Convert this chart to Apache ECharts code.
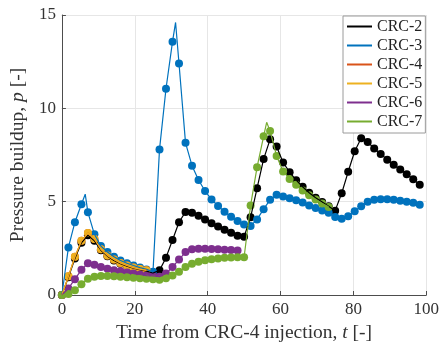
<!DOCTYPE html>
<html><head><meta charset="utf-8">
<script src="https://cdn.jsdelivr.net/npm/echarts@6/dist/echarts.min.js"></script>
<style>html,body{margin:0;padding:0;background:#fff}#c{width:442px;height:349px}</style>
</head><body><div id="c"></div>
<script>
// sample times (markers)
const t = [0,1.79,3.57,5.36,7.14,8.93,10.71,12.5,14.29,16.07,17.86,19.64,21.43,23.21,25,
  26.79,28.57,30.36,32.14,33.93,35.71,37.5,39.29,41.07,42.86,44.64,46.43,48.21,50,
  51.79,53.57,55.36,57.14,58.93,60.71,62.5,64.29,66.07,67.86,69.64,71.43,73.21,75,
  76.79,78.57,80.36,82.14,83.93,85.71,87.5,89.29,91.07,92.86,94.64,96.43,98.21];

const crc2 = [0,0.95,1.95,2.8,3.2,2.9,2.4,2.08,1.85,1.68,1.55,1.44,1.36,1.28,1.18,
  1.32,2.0,2.95,3.9,4.45,4.4,4.25,4.05,3.85,3.67,3.5,3.33,3.18,3.12,
  4.16,5.72,7.28,8.34,7.95,7.1,6.58,6.15,5.8,5.48,5.21,4.98,4.75,4.52,
  5.45,6.6,7.7,8.4,8.2,7.85,7.55,7.25,6.98,6.72,6.47,6.2,5.9];
const crc3 = [0,2.55,3.9,4.86,4.43,3.25,2.62,2.3,2.05,1.85,1.7,1.58,1.47,1.37,1.24,
  7.8,11.05,13.57,12.4,8.15,6.93,6.16,5.57,5.12,4.77,4.46,4.19,3.96,3.78,
  3.7,4.05,4.6,5.1,5.37,5.28,5.18,5.08,4.95,4.8,4.66,4.53,4.4,4.18,
  4.08,4.22,4.48,4.75,5.0,5.1,5.13,5.13,5.1,5.05,5.0,4.94,4.84];
const crc4 = [0,1.0,2.05,2.9,3.32,3.0,2.45,2.12,1.9,1.72,1.58,1.47,1.39,1.32];
const crc5 = [0,1.0,2.05,2.9,3.32,3.0,2.45,2.12,1.9,1.72,1.58,1.47,1.39,1.32];
const crc6 = [0,0.35,0.85,1.35,1.7,1.62,1.5,1.4,1.33,1.27,1.21,1.15,1.1,1.04,1.02,
  0.98,1.15,1.5,1.9,2.3,2.45,2.48,2.48,2.47,2.45,2.43,2.41,2.38];
const crc7 = [0,0.05,0.25,0.58,0.87,0.98,1.02,1.02,1.0,0.98,0.95,0.92,0.9,0.87,0.85,
  0.82,0.9,1.05,1.25,1.5,1.68,1.78,1.86,1.92,1.96,1.99,2.01,2.02,2.02,
  4.8,6.85,8.5,8.78,7.45,6.62,6.22,5.9,5.6,5.35,5.12,4.9,4.72];

// line peaks between markers
const crc3Peaks = [[6.4,5.4],[31.2,14.6]];
const crc7Peaks = [[56.2,9.25]];

const names = ['CRC-2','CRC-3','CRC-4','CRC-5','CRC-6','CRC-7'];
const colors = ['#000000','#0072BD','#D95319','#EDB120','#7E2F8E','#77AC30'];
const values = [crc2,crc3,crc4,crc5,crc6,crc7];
const peaks = [[],crc3Peaks,[],[],[],crc7Peaks];

function pts(v){ return v.map((y,i)=>[t[i],y]); }
function withPeaks(v,p){ return pts(v).concat(p).sort((a,b)=>a[0]-b[0]); }

const FONT = 'Liberation Serif';
const series = [];
values.forEach((v,k)=>{
  series.push({type:'line', name:names[k], data:withPeaks(v,peaks[k]), showSymbol:false, symbol:'none',
    lineStyle:{color:colors[k], width:1.2}, itemStyle:{color:colors[k]}, animation:false});
  series.push({type:'scatter', name:names[k], data:pts(v), symbol:'circle', symbolSize:8,
    itemStyle:{color:colors[k], opacity:1}, animation:false});
});

const axisCommon = {
  axisLine:{show:true, lineStyle:{color:'#4d4d4d', width:1}},
  axisTick:{show:true, inside:true, length:4, lineStyle:{color:'#4d4d4d'}},
  splitLine:{show:true, lineStyle:{color:'#e6e6e6', width:1}},
  nameLocation:'middle',
  nameTextStyle:{rich:{
    n:{fontFamily:FONT, fontSize:19.5, color:'#333'},
    i:{fontFamily:FONT, fontSize:19.5, fontStyle:'italic', color:'#333'}
  }}
};

const chart = echarts.init(document.getElementById('c'));
chart.setOption({
  backgroundColor:'#fff',
  animation:false,
  grid:{left:58, right:15, top:15, bottom:54, containLabel:false},
  xAxis:Object.assign({type:'value', min:0, max:100, interval:20,
    name:'{n|Time from CRC-4 injection, }{i|t}{n| [-]}', nameGap:26}, axisCommon,
    {axisLabel:{fontFamily:FONT, fontSize:17, color:'#333', margin:6}}),
  yAxis:Object.assign({type:'value', min:0, max:15, interval:5,
    name:'{n|Pressure buildup, }{i|p}{n| [-]}', nameGap:30, nameRotate:90}, axisCommon,
    {axisLabel:{fontFamily:FONT, fontSize:17, color:'#333', margin:6}}),
  legend:{orient:'vertical', left:343, top:16, itemWidth:25, itemHeight:2, itemGap:0, icon:'rect',
    padding:[1,3,2,4], borderColor:'#9a9a9a', borderWidth:1, backgroundColor:'#fff', borderRadius:0,
    textStyle:{fontFamily:FONT, fontSize:16, color:'#222', lineHeight:19}, data:names},
  series:series
});
</script></body></html>
